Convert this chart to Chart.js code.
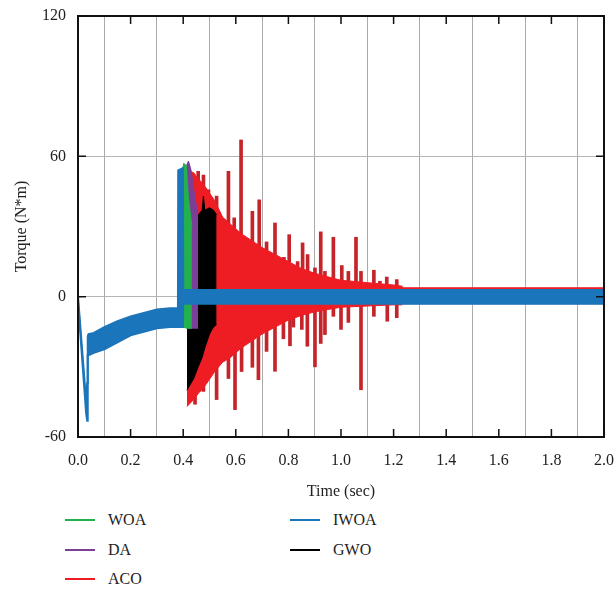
<!DOCTYPE html>
<html>
<head>
<meta charset="utf-8">
<script src="https://cdn.jsdelivr.net/npm/chart.js@4.4.1/dist/chart.umd.min.js"></script>
<style>
  body { margin: 0; background: #fff; }
  #wrap { position: relative; width: 615px; height: 590px; }
  #chart { position: absolute; left: 0; top: 0; }
  .legend-item { position: absolute; display: flex; align-items: center; height: 20px;
    font: 16px "Liberation Serif", "Times New Roman", serif; color: #222; }
  .legend-item .swatch { display: inline-block; width: 30px; height: 2px; margin-right: 13px; }
</style>
</head>
<body>
<div id="wrap">
  <canvas id="chart" width="615" height="505"></canvas>
  <div id="legend"></div>
</div>
<script>
// axis ticks
const timeTicks = [0, 0.2, 0.4, 0.6, 0.8, 1.0, 1.2, 1.4, 1.6, 1.8, 2.0];
const torqueTicks = [-60, 0, 60, 120];

// legend order as in the figure
const seriesNames = ['WOA', 'DA', 'ACO', 'IWOA', 'GWO'];
const seriesColors = ['#22b14c', '#7b3f98', '#ee1d23', '#1b75bb', '#000000'];
const spikeColor = '#c4242a';

// IWOA: envelope of the oscillation band (upper / lower)
const iwoaTime = [0, 0.031, 0.035, 0.037, 0.04, 0.06, 0.1, 0.15, 0.2, 0.25, 0.3, 0.35, 0.38, 0.381, 0.399, 0.4, 2.0];
const iwoaHigh = [0, -45, -37, -17, -16, -15.5, -13, -10.5, -8.5, -7, -5.5, -5, -5, 54, 55, 2.8, 2.8];
const iwoaLow  = [-2, -50, -53, -25, -25, -24, -22.5, -19.5, -16.5, -15, -13.5, -13, -13, -13, -13, -3, -3];

// WOA
const woaTime = [0.397, 0.402, 0.412, 0.42, 0.433];
const woaHigh = [54, 57, 56, 42, 30];
const woaLow  = [-13, -13, -13.5, -13.5, -13.5];

// DA
const daTime = [0.412, 0.42, 0.43, 0.44, 0.45, 0.457];
const daHigh = [56, 58, 54, 46, 39, 36];
const daLow  = [-13, -13.5, -13.5, -13.5, -13.5, -13.5];

// GWO
const gwoTime = [0.414, 0.44, 0.457, 0.472, 0.477, 0.482, 0.5, 0.515, 0.527];
const gwoHigh = [38, 36, 35, 37, 43, 37, 38, 37, 35];
const gwoLow  = [-40, -35, -30, -26, -24, -22, -16, -13, -12];

// ACO band
const acoTime = [0.414, 0.44, 0.46, 0.47, 0.49, 0.52, 0.55, 0.58, 0.62, 0.66, 0.7, 0.75, 0.8, 0.85, 0.9, 0.95, 1.0, 1.1, 1.2, 1.232, 1.236, 2.0];
const acoHigh = [54, 53, 50, 49, 46, 41, 34, 31, 27, 24, 21, 18, 15, 12, 10, 8.5, 7, 6, 5, 4.5, 3.8, 3.8];
const acoLow  = [-47, -44, -41, -40, -37, -32, -28, -26, -22, -19, -16, -13, -10, -8, -6.5, -5.5, -4.5, -4, -3.5, -3.5, -3, -3];

// ACO spikes
const acoUpTime = [0.457, 0.477, 0.496, 0.527, 0.572, 0.594, 0.620, 0.663, 0.689, 0.717, 0.749, 0.783, 0.803, 0.835, 0.854, 0.873, 0.901, 0.923, 0.939, 0.971, 1.003, 1.028, 1.057, 1.076, 1.125, 1.148, 1.174, 1.212];
const acoUpPeak = [53.6, 52, 45.7, 43, 53.6, 33.7, 67, 36.5, 41.4, 23.4, 31.5, 16.8, 26.5, 15, 23, 18, 12.3, 27.7, 10.8, 25.4, 13.3, 10.8, 25.4, 10.8, 11.3, 6.6, 8.4, 7.3];
const acoDownTime = [0.445, 0.477, 0.527, 0.572, 0.597, 0.622, 0.663, 0.686, 0.717, 0.749, 0.781, 0.806, 0.819, 0.851, 0.872, 0.901, 0.923, 0.939, 0.971, 1.0, 1.028, 1.076, 1.125, 1.176, 1.212];
const acoDownPeak = [-46, -40.5, -44, -35, -48.3, -32, -30.2, -35.5, -23.4, -31.9, -18, -21, -13, -14, -21.2, -30, -20, -16.2, -8.4, -14, -11, -39.8, -8.4, -10.5, -9];

const pts = (xs, ys) => xs.map((x, i) => ({ x: x, y: ys[i] }));
const bars = (xs, ys) => xs.map((x, i) => ({ x: x, y: [0, ys[i]] }));

function band(name, color, xs, hi, lo, order, width) {
    const common = { type: 'line', borderColor: color, backgroundColor: color, borderWidth: width || 1,
        pointRadius: 0, tension: 0, order: order };
    return [
        Object.assign({ label: name, data: pts(xs, hi), fill: '+1' }, common),
        Object.assign({ label: name + ' low', data: pts(xs, lo), fill: false }, common)
    ];
}

const col = name => seriesColors[seriesNames.indexOf(name)];
const serif = { family: '"Liberation Serif", "Times New Roman", serif', size: 16 };

const datasets = [
    ...band('IWOA', col('IWOA'), iwoaTime, iwoaHigh, iwoaLow, 0, 2),
    ...band('WOA', col('WOA'), woaTime, woaHigh, woaLow, 1),
    ...band('DA', col('DA'), daTime, daHigh, daLow, 2),
    ...band('GWO', col('GWO'), gwoTime, gwoHigh, gwoLow, 3),
    ...band('ACO', col('ACO'), acoTime, acoHigh, acoLow, 5),
    { type: 'bar', label: 'ACO spikes', data: bars(acoUpTime, acoUpPeak), backgroundColor: spikeColor,
      barThickness: 3, grouped: false, order: 6 },
    { type: 'bar', label: 'ACO spikes low', data: bars(acoDownTime, acoDownPeak), backgroundColor: spikeColor,
      barThickness: 3, grouped: false, order: 6 }
];

// frame with inward tick marks
const framePlugin = {
    id: 'frame',
    afterDraw(chart) {
        const { ctx, chartArea: a, scales: { x, y } } = chart;
        ctx.save();
        ctx.strokeStyle = '#111';
        ctx.lineWidth = 2;
        ctx.strokeRect(a.left, a.top, a.right - a.left, a.bottom - a.top);
        ctx.lineWidth = 1.5;
        ctx.beginPath();
        x.ticks.forEach(t => {
            const px = x.getPixelForValue(t.value);
            ctx.moveTo(px, a.top); ctx.lineTo(px, a.top + 8);
            ctx.moveTo(px, a.bottom); ctx.lineTo(px, a.bottom - 8);
        });
        y.ticks.forEach(t => {
            const py = y.getPixelForValue(t.value);
            ctx.moveTo(a.left, py); ctx.lineTo(a.left + 8, py);
            ctx.moveTo(a.right, py); ctx.lineTo(a.right - 8, py);
        });
        ctx.stroke();
        ctx.restore();
    }
};

new Chart(document.getElementById('chart'), {
    type: 'line',
    data: { datasets: datasets },
    options: {
        responsive: false,
        animation: false,
        layout: { padding: { top: 16, right: 11, left: 0, bottom: 0 } },
        plugins: { legend: { display: false }, tooltip: { enabled: false } },
        scales: {
            x: {
                type: 'linear', min: 0, max: 2, offset: false,
                afterBuildTicks: s => { s.ticks = timeTicks.map(v => ({ value: v })); },
                afterFit: s => { s.height = 68; s.paddingLeft = 0; s.paddingRight = 0; },
                ticks: { callback: v => v.toFixed(1), font: serif, color: '#222', padding: 14, maxRotation: 0, autoSkip: false },
                grid: { color: '#aaaaaa', drawTicks: false },
                border: { display: false },
                title: { display: true, text: 'Time (sec)', font: { family: serif.family, size: 16 }, color: '#222', padding: { top: 4 } }
            },
            y: {
                min: -60, max: 120,
                afterBuildTicks: s => { s.ticks = torqueTicks.map(v => ({ value: v })); },
                afterFit: s => { s.width = 78; s.paddingTop = 0; s.paddingBottom = 0; },
                ticks: { font: serif, color: '#222', padding: 12 },
                grid: { color: '#b4b4b4', drawTicks: false },
                border: { display: false },
                title: { display: true, text: 'Torque (N*m)', font: { family: serif.family, size: 16 }, color: '#222', padding: { top: 12, bottom: 0 } }
            }
        }
    },
    plugins: [framePlugin]
});

// legend: two columns, WOA/DA/ACO left, IWOA/GWO right
const legendPos = { WOA: [65, 510], DA: [65, 540], ACO: [65, 569], IWOA: [290, 510], GWO: [290, 540] };
const legend = document.getElementById('legend');
seriesNames.forEach((name, i) => {
    const item = document.createElement('div');
    item.className = 'legend-item';
    item.style.left = legendPos[name][0] + 'px';
    item.style.top = legendPos[name][1] + 'px';
    item.innerHTML = '<span class="swatch" style="background:' + seriesColors[i] + '"></span>' + name;
    legend.appendChild(item);
});
</script>
</body>
</html>
